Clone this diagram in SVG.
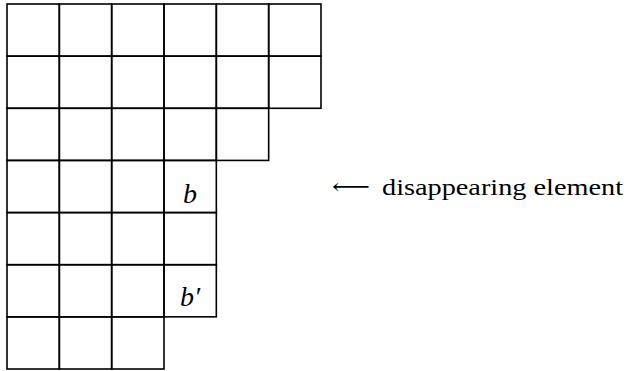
<svg xmlns="http://www.w3.org/2000/svg" width="627" height="371" viewBox="0 0 627 371">
<style>
.c{fill:none;stroke:#000;stroke-width:1.6}
</style>
<rect width="627" height="371" fill="#fff"/>
<g id="row1">
<rect id="c11" class="c" x="7" y="4" width="52.33" height="52.14"/>
<rect id="c12" class="c" x="59.33" y="4" width="52.33" height="52.14"/>
<rect id="c13" class="c" x="111.67" y="4" width="52.33" height="52.14"/>
<rect id="c14" class="c" x="164" y="4" width="52.33" height="52.14"/>
<rect id="c15" class="c" x="216.33" y="4" width="52.33" height="52.14"/>
<rect id="c16" class="c" x="268.67" y="4" width="52.33" height="52.14"/>
</g>
<g id="row2">
<rect id="c21" class="c" x="7" y="56.14" width="52.33" height="52.14"/>
<rect id="c22" class="c" x="59.33" y="56.14" width="52.33" height="52.14"/>
<rect id="c23" class="c" x="111.67" y="56.14" width="52.33" height="52.14"/>
<rect id="c24" class="c" x="164" y="56.14" width="52.33" height="52.14"/>
<rect id="c25" class="c" x="216.33" y="56.14" width="52.33" height="52.14"/>
<rect id="c26" class="c" x="268.67" y="56.14" width="52.33" height="52.14"/>
</g>
<g id="row3">
<rect id="c31" class="c" x="7" y="108.29" width="52.33" height="52.14"/>
<rect id="c32" class="c" x="59.33" y="108.29" width="52.33" height="52.14"/>
<rect id="c33" class="c" x="111.67" y="108.29" width="52.33" height="52.14"/>
<rect id="c34" class="c" x="164" y="108.29" width="52.33" height="52.14"/>
<rect id="c35" class="c" x="216.33" y="108.29" width="52.33" height="52.14"/>
</g>
<g id="row4">
<rect id="c41" class="c" x="7" y="160.43" width="52.33" height="52.14"/>
<rect id="c42" class="c" x="59.33" y="160.43" width="52.33" height="52.14"/>
<rect id="c43" class="c" x="111.67" y="160.43" width="52.33" height="52.14"/>
<g id="cell-b">
<rect id="c44" class="c" x="164" y="160.43" width="52.33" height="52.14"/>
<text font-family="Liberation Serif, serif" font-style="italic" font-size="28" x="190" y="203" text-anchor="middle">b</text>
</g>
</g>
<g id="row5">
<rect id="c51" class="c" x="7" y="212.57" width="52.33" height="52.14"/>
<rect id="c52" class="c" x="59.33" y="212.57" width="52.33" height="52.14"/>
<rect id="c53" class="c" x="111.67" y="212.57" width="52.33" height="52.14"/>
<rect id="c54" class="c" x="164" y="212.57" width="52.33" height="52.14"/>
</g>
<g id="row6">
<rect id="c61" class="c" x="7" y="264.71" width="52.33" height="52.14"/>
<rect id="c62" class="c" x="59.33" y="264.71" width="52.33" height="52.14"/>
<rect id="c63" class="c" x="111.67" y="264.71" width="52.33" height="52.14"/>
<g id="cell-bprime">
<rect id="c64" class="c" x="164" y="264.71" width="52.33" height="52.14"/>
<text font-family="Liberation Serif, serif" font-style="italic" font-size="28" x="190" y="306" text-anchor="middle">b′</text>
</g>
</g>
<g id="row7">
<rect id="c71" class="c" x="7" y="316.86" width="52.33" height="52.14"/>
<rect id="c72" class="c" x="59.33" y="316.86" width="52.33" height="52.14"/>
<rect id="c73" class="c" x="111.67" y="316.86" width="52.33" height="52.14"/>
</g>
<g id="label">
<text font-family="DejaVu Serif, serif" font-size="22" x="332" y="194" textLength="38" lengthAdjust="spacingAndGlyphs">⟵</text>
<text font-family="Liberation Serif, serif" font-size="24" x="382" y="195" textLength="241" lengthAdjust="spacingAndGlyphs">disappearing element</text>
</g>
</svg>
